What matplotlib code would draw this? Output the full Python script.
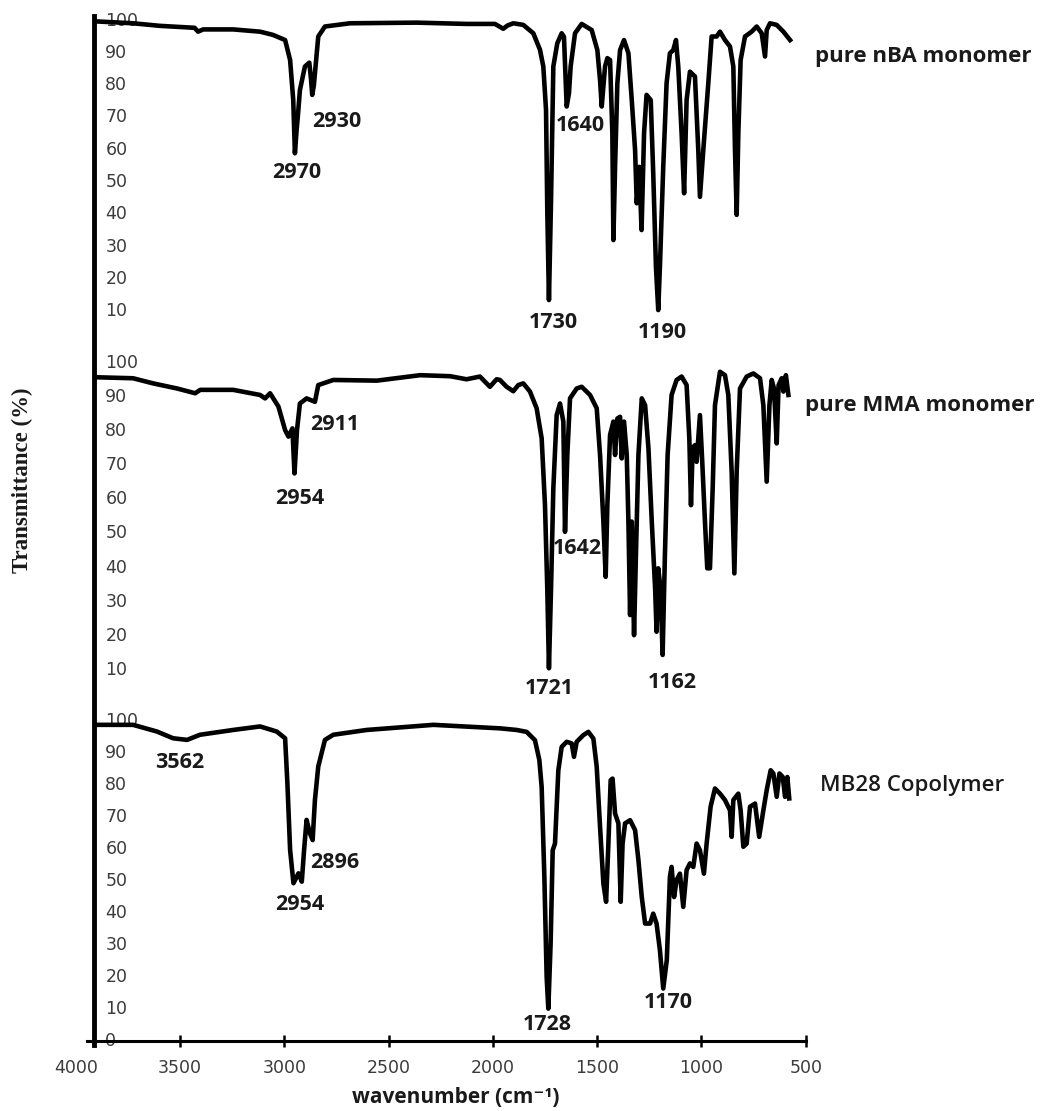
import matplotlib
matplotlib.use("Agg")
import matplotlib.pyplot as plt
from matplotlib.lines import Line2D
import matplotlib.transforms as mtransforms

# spectra: (wavenumber cm-1, transmittance %)
nba_wn = [3907, 3725, 3596, 3430, 3413, 3389, 3245, 3116, 3054, 2996, 2972, 2957, 2949, 2941,
          2935, 2925, 2901, 2880, 2872, 2866, 2858, 2853, 2837, 2805, 2685, 2365, 2126, 1990,
          1950, 1930, 1902, 1854, 1806, 1774, 1758, 1745, 1739, 1731, 1721, 1710, 1691, 1670,
          1659, 1646, 1635, 1627, 1606, 1574, 1526, 1499, 1486, 1478, 1462, 1451, 1438, 1427,
          1422, 1414, 1403, 1390, 1371, 1350, 1334, 1318, 1310, 1298, 1287, 1275, 1263, 1243,
          1231, 1218, 1207, 1199, 1183, 1167, 1151, 1135, 1122, 1111, 1095, 1083, 1071, 1055,
          1031, 1015, 1007, 991, 967, 951, 927, 911, 887, 863, 847, 839, 831, 823, 812, 791,
          759, 735, 711, 695, 687, 671, 639, 607, 575]
nba_t = [99.8, 99.2, 98.4, 97.8, 96.6, 97.3, 97.3, 96.6, 95.6, 94.0, 87.8, 75.4, 58.9, 66.0,
         70.3, 78.5, 85.8, 87.0, 82.0, 77.0, 80.0, 83.7, 95.1, 98.2, 99.2, 99.4, 99.0, 99.0,
         97.5, 98.5, 99.2, 98.7, 96.1, 91.0, 85.8, 72.3, 41.3, 13.4, 44.4, 85.8, 93.0, 96.1,
         95.0, 73.4, 77.5, 85.8, 96.1, 99.0, 97.1, 90.9, 81.6, 73.4, 85.8, 88.4, 87.8, 65.1,
         32.0, 54.7, 80.6, 90.9, 94.0, 89.9, 75.4, 59.9, 43.4, 54.7, 35.1, 65.1, 77.0, 75.4,
         52.7, 23.7, 10.3, 23.7, 54.7, 80.6, 89.9, 90.9, 94.0, 85.8, 65.1, 46.5, 75.4, 84.2,
         82.7, 59.9, 45.4, 59.9, 80.6, 95.1, 95.1, 96.6, 94.0, 92.0, 85.8, 59.9, 39.8, 65.1,
         87.8, 95.1, 96.6, 98.2, 96.1, 88.9, 97.1, 99.2, 98.7, 96.6, 94.0]

mma_wn = [3907, 3725, 3629, 3514, 3427, 3403, 3245, 3116, 3092, 3068, 3028, 2996, 2980, 2961,
          2951, 2939, 2925, 2893, 2853, 2837, 2765, 2556, 2349, 2205, 2126, 2062, 2014, 1982,
          1966, 1934, 1902, 1878, 1854, 1822, 1790, 1766, 1750, 1739, 1731, 1721, 1710, 1694,
          1678, 1662, 1654, 1643, 1630, 1598, 1574, 1534, 1502, 1486, 1470, 1459, 1451, 1438,
          1422, 1414, 1403, 1390, 1382, 1371, 1358, 1350, 1342, 1334, 1323, 1314, 1302, 1286,
          1270, 1254, 1238, 1222, 1215, 1207, 1196, 1186, 1175, 1162, 1143, 1119, 1095, 1071,
          1058, 1050, 1042, 1031, 1023, 1007, 996, 983, 972, 959, 946, 935, 911, 887, 871, 855,
          842, 831, 815, 783, 751, 719, 703, 687, 674, 663, 652, 639, 630, 615, 607, 595, 583]
mma_t = [95.8, 95.5, 94.0, 92.5, 91.1, 92.1, 92.1, 90.6, 89.6, 91.1, 87.2, 80.3, 78.4, 80.8,
         67.6, 80.3, 88.1, 89.6, 88.6, 93.5, 95.0, 94.8, 96.4, 96.1, 95.2, 96.0, 93.0, 95.2,
         95.0, 93.0, 91.7, 93.5, 94.0, 91.6, 86.7, 77.9, 58.3, 33.9, 10.5, 33.9, 63.2, 84.7,
         88.1, 82.8, 50.5, 73.0, 89.6, 92.5, 93.0, 90.6, 86.7, 73.0, 53.5, 37.3, 58.3, 78.9,
         82.8, 73.0, 83.7, 84.2, 72.0, 82.8, 73.0, 53.5, 26.1, 53.5, 20.2, 43.7, 73.0, 89.6,
         87.6, 75.0, 53.5, 33.9, 21.2, 39.8, 33.9, 14.4, 43.7, 73.0, 90.6, 95.0, 96.0, 93.5,
         77.9, 58.3, 75.0, 75.9, 71.0, 84.7, 71.0, 53.5, 39.8, 39.8, 63.2, 87.6, 97.4, 96.4,
         90.6, 68.1, 38.3, 68.1, 92.5, 96.0, 96.9, 95.5, 87.6, 65.2, 87.6, 95.0, 92.5, 76.4,
         93.5, 95.5, 91.6, 96.4, 90.6]

mb28_wn = [3907, 3725, 3610, 3533, 3466, 3404, 3245, 3116, 3036, 2996, 2985, 2972, 2956, 2932,
           2916, 2905, 2893, 2877, 2864, 2853, 2837, 2805, 2765, 2605, 2285, 1965, 1886, 1838,
           1798, 1777, 1766, 1753, 1742, 1734, 1723, 1713, 1702, 1686, 1670, 1646, 1622, 1611,
           1598, 1566, 1542, 1518, 1502, 1486, 1470, 1457, 1446, 1435, 1426, 1414, 1398, 1387,
           1378, 1366, 1342, 1318, 1302, 1286, 1270, 1246, 1231, 1215, 1199, 1183, 1166, 1151,
           1143, 1131, 1119, 1103, 1087, 1071, 1055, 1039, 1023, 1007, 988, 975, 956, 935, 911,
           887, 863, 855, 847, 823, 812, 799, 783, 767, 743, 723, 703, 687, 668, 655, 639, 626,
           610, 599, 588, 579]
mb28_t = [98.8, 98.8, 96.7, 94.6, 94.1, 95.7, 97.2, 98.3, 96.7, 94.6, 80.5, 59.7, 49.3, 52.4,
          49.8, 59.7, 69.1, 64.9, 62.8, 75.3, 85.8, 94.1, 95.7, 97.2, 98.8, 97.7, 97.2, 96.6,
          94.0, 87.8, 79.4, 51.3, 20.0, 10.1, 30.5, 59.6, 61.7, 84.6, 91.9, 93.5, 93.0, 88.8,
          93.5, 95.6, 96.6, 94.5, 85.7, 66.9, 49.2, 43.5, 61.7, 81.5, 82.0, 71.1, 68.0, 43.5,
          61.7, 68.0, 69.0, 65.9, 56.5, 45.0, 36.7, 36.7, 39.8, 36.7, 28.4, 16.4, 25.3, 51.3,
          54.4, 45.0, 50.3, 52.3, 41.9, 53.4, 55.5, 54.4, 61.7, 59.6, 52.3, 61.7, 73.2, 78.9,
          77.3, 75.3, 72.1, 63.8, 75.3, 77.3, 72.1, 60.7, 61.7, 73.2, 74.2, 63.8, 72.1, 78.4,
          84.6, 83.6, 76.3, 83.6, 82.5, 76.3, 82.5, 75.8]

# peak labels: text, wavenumber position, transmittance position
nba_peaks = [("2970", 2939, 52.8), ("2930", 2747, 68.9), ("1640", 1582, 67.4),
             ("1730", 1711, 6.6), ("1190", 1189, 3.2)]
mma_peaks = [("2911", 2757, 81.8), ("2954", 2925, 60.4), ("1642", 1596, 45.5),
             ("1721", 1730, 4.7), ("1162", 1141, 6.2)]
mb28_peaks = [("3562", 3500, 86.9), ("2896", 2757, 55.9), ("2954", 2925, 42.5),
              ("1728", 1740, 5.0), ("1170", 1160, 11.9)]

top_ticks = [10, 20, 30, 40, 50, 60, 70, 80, 90, 100]
bottom_ticks = [0, 10, 20, 30, 40, 50, 60, 70, 80, 90, 100]
x_ticks = [4000, 3500, 3000, 2500, 2000, 1500, 1000, 500]

W, H = 1044, 1111
fig = plt.figure(figsize=(W / 100, H / 100), dpi=100)

def px_rect(y0, y100):
    # axes spanning 4000 -> 500 horizontally, 0 -> 100 vertically (pixel rows)
    left, right = 75.7, 805.7
    return [left / W, 1 - y0 / H, (right - left) / W, (y0 - y100) / H]

ax_top = fig.add_axes(px_rect(343.3, 20.7))
ax_mid = fig.add_axes(px_rect(704.1, 362.9))
ax_bot = fig.add_axes(px_rect(1041.0, 721.0))

panels = [
    (ax_top, nba_wn, nba_t, nba_peaks, top_ticks, "pure nBA monomer", (456, 88.8), "bold"),
    (ax_mid, mma_wn, mma_t, mma_peaks, top_ticks, "pure MMA monomer", (503, 87.4), "bold"),
    (ax_bot, mb28_wn, mb28_t, mb28_peaks, bottom_ticks, "MB28 Copolymer", (432, 80.0), "semibold"),
]

bold_font = ["Open Sans", "DejaVu Sans"]
tick_font = ["DejaVu Sans"]

for ax, wn, t, peaks, yt, name, name_pos, weight in panels:
    ax.set_xlim(4000, 500)
    ax.set_ylim(0, 100)
    ax.patch.set_alpha(0)
    for s in ax.spines.values():
        s.set_visible(False)
    ax.set_yticks([])
    ax.set_xticks([])
    ax.plot(wn, t, color="black", lw=3.3, solid_joinstyle="round", zorder=3, clip_on=False)
    for v in yt:
        ax.text(3858, v, str(v), ha="left", va="center", fontsize=12.5, color="#3c3c3c",
                family=tick_font, zorder=1, clip_on=False)
    for lab, x, y in peaks:
        ax.text(x, y, lab, ha="center", va="center", fontsize=15.5, fontweight="bold",
                family=bold_font, color="#1a1a1a", zorder=4, clip_on=False)
    ax.text(name_pos[0], name_pos[1], name, ha="left", va="center", fontsize=16,
            fontweight=weight, family=bold_font, color="#1a1a1a", clip_on=False)

# x axis on the bottom panel
ax_bot.spines["bottom"].set_visible(True)
ax_bot.spines["bottom"].set_linewidth(2.2)
ax_bot.spines["bottom"].set_bounds(3946, 500)
ax_bot.set_xticks(x_ticks)
ax_bot.set_xticklabels([str(v) for v in x_ticks], fontsize=12.5, color="#3c3c3c", family=tick_font)
ax_bot.tick_params(axis="x", direction="inout", length=8, width=1.8, pad=9)
ax_bot.xaxis.get_major_ticks()[0].tick1line.set_visible(False)
ax_bot.set_xlabel("wavenumber (cm⁻¹)", fontsize=15, fontweight="bold", family=bold_font,
                  color="#1a1a1a")
ax_bot.xaxis.set_label_coords(0.521, -0.145)

# single vertical axis line shared by the three panels
trans = mtransforms.blended_transform_factory(ax_bot.transData, fig.transFigure)
fig.add_artist(Line2D([3911, 3911], [1 - 1045 / H, 1 - 16 / H], transform=trans,
                      color="black", lw=3.5, zorder=5))

fig.text(22 / W, 1 - 480 / H, "Transmittance (%)", rotation=90, ha="center", va="center",
         fontsize=16.5, fontweight="bold", family=["Liberation Serif"], color="#1a1a1a")

fig.savefig("out.png", dpi=100, facecolor="white")
